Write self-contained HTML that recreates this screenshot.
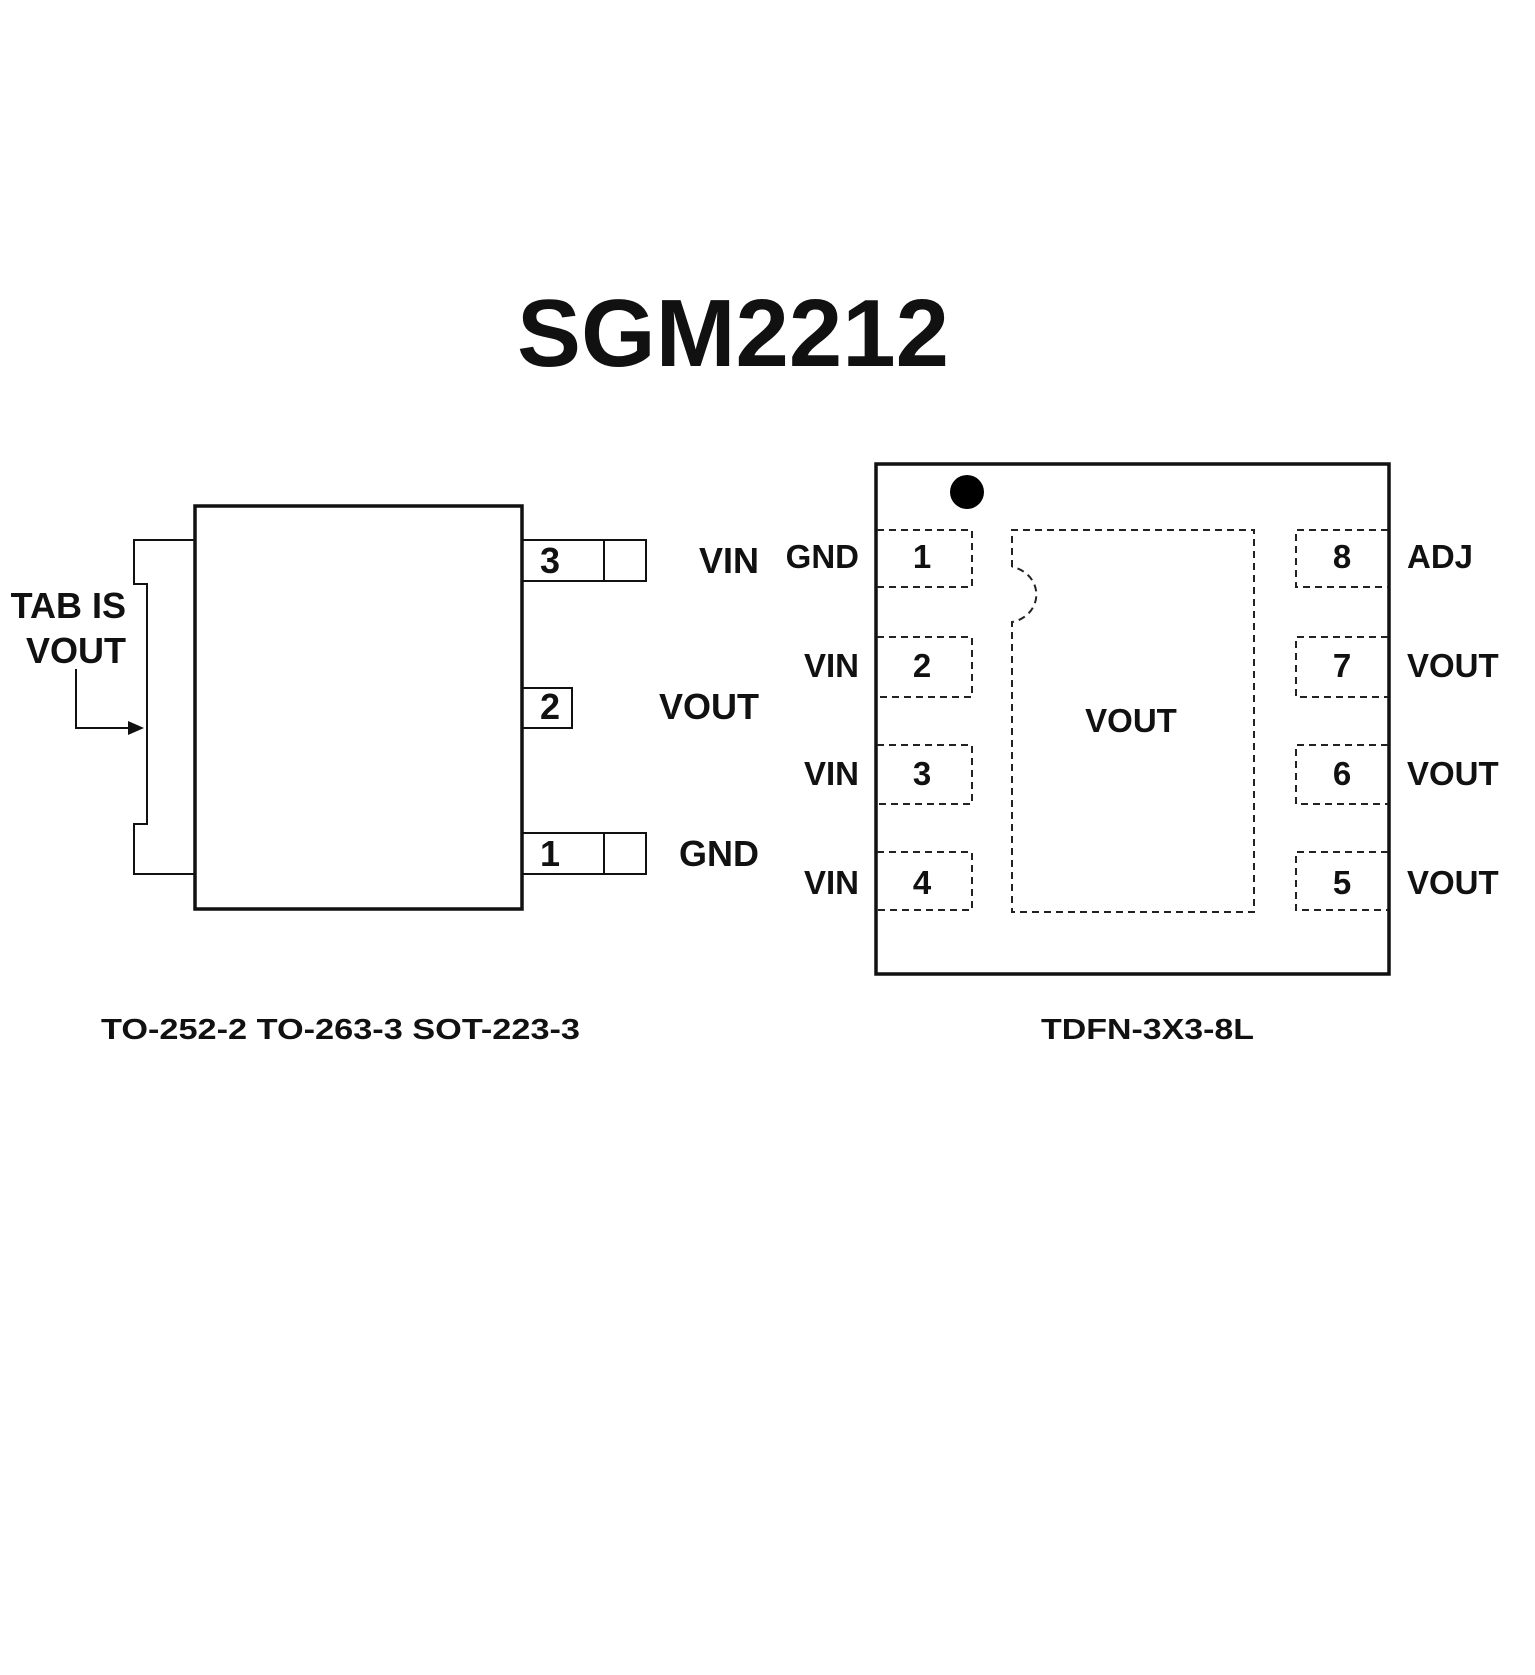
<!DOCTYPE html>
<html><head><meta charset="utf-8"><style>
html,body{margin:0;padding:0;background:#fff;}
svg{display:block;}
text{font-family:"Liberation Sans",Arial,sans-serif;font-weight:bold;fill:#111;}
</style></head><body>
<svg width="1535" height="1675" viewBox="0 0 1535 1675" xmlns="http://www.w3.org/2000/svg">
<rect width="1535" height="1675" fill="#fff"/>
<text x="733" y="366" font-size="96" text-anchor="middle" textLength="432" lengthAdjust="spacingAndGlyphs" fill="#000">SGM2212</text>

<!-- Left package -->
<g stroke="#111" fill="none">
<rect x="195" y="506" width="327" height="403" stroke-width="3.5"/>
<polyline points="195,540 134,540 134,584 147,584 147,824 134,824 134,874 195,874" stroke-width="2"/>
<rect x="522" y="540" width="124" height="41" stroke-width="2"/>
<line x1="604" y1="540" x2="604" y2="581" stroke-width="2"/>
<rect x="522" y="688" width="50" height="40" stroke-width="2"/>
<rect x="522" y="833" width="124" height="41" stroke-width="2"/>
<line x1="604" y1="833" x2="604" y2="874" stroke-width="2"/>
<polyline points="76,669 76,728 132,728" stroke-width="2"/>
</g>
<polygon points="144,728 128,721 128,735" fill="#111"/>
<g font-size="36">
<text x="550" y="573" text-anchor="middle">3</text>
<text x="550" y="719" text-anchor="middle">2</text>
<text x="550" y="866" text-anchor="middle">1</text>
<text x="759" y="573" text-anchor="end">VIN</text>
<text x="759" y="719" text-anchor="end">VOUT</text>
<text x="759" y="866" text-anchor="end">GND</text>
<text x="126" y="618" text-anchor="end">TAB IS</text>
<text x="126" y="663" text-anchor="end">VOUT</text>
</g>
<text x="101" y="1039" font-size="29" textLength="479" lengthAdjust="spacingAndGlyphs">TO-252-2 TO-263-3 SOT-223-3</text>

<!-- Right package -->
<rect x="876" y="464" width="513" height="510" fill="none" stroke="#111" stroke-width="3.5"/>
<circle cx="967" cy="492" r="17" fill="#000"/>
<g stroke="#222" stroke-width="2" fill="none" stroke-dasharray="7,5">
<polyline points="877,530 972,530 972,587 877,587"/>
<polyline points="877,637 972,637 972,697 877,697"/>
<polyline points="877,745 972,745 972,804 877,804"/>
<polyline points="877,852 972,852 972,910 877,910"/>
<polyline points="1388,530 1296,530 1296,587 1388,587"/>
<polyline points="1388,637 1296,637 1296,697 1388,697"/>
<polyline points="1388,745 1296,745 1296,804 1388,804"/>
<polyline points="1388,852 1296,852 1296,910 1388,910"/>
<path d="M1012,567 L1012,530 L1254,530 L1254,912 L1012,912 L1012,622 A30,28 0 0 0 1012,567"/>
</g>
<g font-size="33">
<text x="922" y="568" text-anchor="middle">1</text>
<text x="922" y="677" text-anchor="middle">2</text>
<text x="922" y="785" text-anchor="middle">3</text>
<text x="922" y="894" text-anchor="middle">4</text>
<text x="1342" y="568" text-anchor="middle">8</text>
<text x="1342" y="677" text-anchor="middle">7</text>
<text x="1342" y="785" text-anchor="middle">6</text>
<text x="1342" y="894" text-anchor="middle">5</text>
<text x="859" y="568" text-anchor="end">GND</text>
<text x="859" y="677" text-anchor="end">VIN</text>
<text x="859" y="785" text-anchor="end">VIN</text>
<text x="859" y="894" text-anchor="end">VIN</text>
<text x="1407" y="568">ADJ</text>
<text x="1407" y="677">VOUT</text>
<text x="1407" y="785">VOUT</text>
<text x="1407" y="894">VOUT</text>
<text x="1131" y="732" text-anchor="middle">VOUT</text>
</g>
<text x="1041" y="1039" font-size="29" textLength="213" lengthAdjust="spacingAndGlyphs">TDFN-3X3-8L</text>
</svg>
</body></html>
